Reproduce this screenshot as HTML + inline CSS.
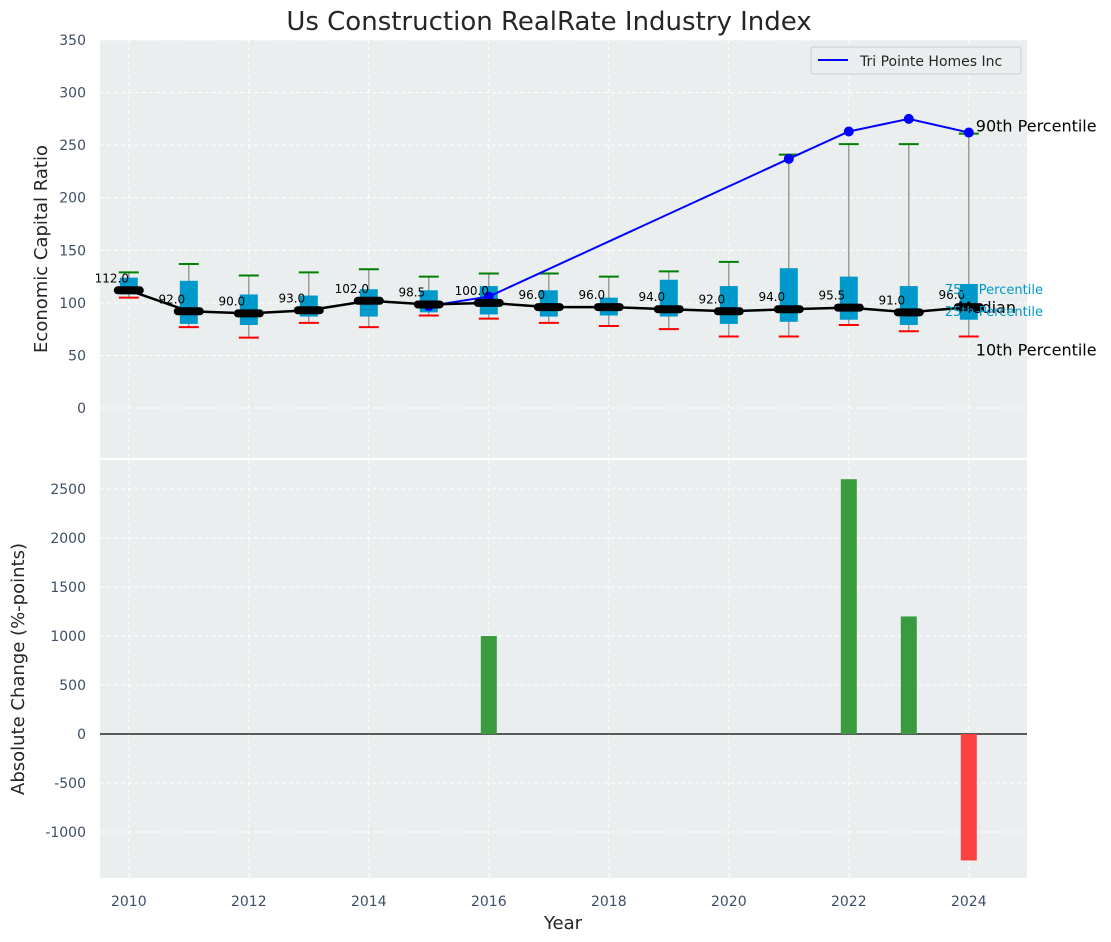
<!DOCTYPE html>
<html><head><meta charset="utf-8"><style>
html,body{margin:0;padding:0;background:#fff;}
svg{display:block;font-family:"DejaVu Sans","Liberation Sans",sans-serif;}
</style></head><body>
<svg id="chart" width="1111" height="942" viewBox="0 0 1111 942" xmlns="http://www.w3.org/2000/svg">
<text x="549" y="30" font-size="26" text-anchor="middle" fill="#262626">Us Construction RealRate Industry Index</text>
<rect x="100" y="40" width="927" height="418" fill="#eaeeef"/>
<rect x="100" y="460" width="927" height="418" fill="#eaeeef"/>
<g id="topG"></g><g id="botG"></g>
<text transform="translate(47,249) rotate(-90)" font-size="18" text-anchor="middle" fill="#262626">Economic Capital Ratio</text>
<text transform="translate(24,669) rotate(-90)" font-size="18" text-anchor="middle" fill="#262626">Absolute Change (%-points)</text>
<text x="563" y="929" font-size="18" text-anchor="middle" fill="#262626">Year</text>
<g id="legendG">
<rect x="811" y="47" width="210" height="27" rx="3" fill="#eaeeef" stroke="#cccccc"/>
<line x1="818" y1="60" x2="848" y2="60" stroke="#0000ff" stroke-width="2"/>
<text x="860" y="66" font-size="14" fill="#262626">Tri Pointe Homes Inc</text>
</g>
</svg>
<script>
const years=[2010,2011,2012,2013,2014,2015,2016,2017,2018,2019,2020,2021,2022,2023,2024];
const medians=[112,92,90,93,102,98.5,100,96,96,94,92,94,95.5,91,96];
const q1=[108,80,79,87,87,91,89,87,88,87,80,82,84,79,84];
const q3=[124,121,108,107,113,112,116,112,105,122,116,133,125,116,118];
const p10=[105,77,67,81,77,88,85,81,78,75,68,68,79,73,68];
const p90=[129,137,126,129,132,125,128,128,125,130,139,241,251,251,261];
const companyYears=[2015,2016,2021,2022,2023,2024];
const companyValues=[97,106,237,263,275,262];
const changeYears=[2016,2022,2023,2024];
const changeValues=[1000,2600,1200,-1290];
const topTicks=[0,50,100,150,200,250,300,350];
const botTicks=[-1000,-500,0,500,1000,1500,2000,2500];
const xTicks=[2010,2012,2014,2016,2018,2020,2022,2024];

const NS="http://www.w3.org/2000/svg";
const X=v=>100+(v-2009.52)/(2024.97-2009.52)*927;
const YT=v=>458-(v+47.5)/(350+47.5)*418;
const YB=v=>878-(v+1469)/(2796+1469)*418;
function mk(parent,tag,attrs){const e=document.createElementNS(NS,tag);for(const k in attrs)e.setAttribute(k,attrs[k]);parent.appendChild(e);return e;}
const topG=document.getElementById('topG'), botG=document.getElementById('botG');

for(let yr=2010;yr<=2024;yr+=2){
  let g=mk(topG,'line',{x1:X(yr),x2:X(yr),y1:40,y2:458,stroke:'#fff','stroke-dasharray':'4,3'});
  
  
  g=mk(botG,'line',{x1:X(yr),x2:X(yr),y1:460,y2:878,stroke:'#fff','stroke-dasharray':'4,3'});
  
  
}
topTicks.forEach(t=>{
  let g=mk(topG,'line',{x1:100,x2:1027,y1:YT(t),y2:YT(t),stroke:'#fff','stroke-dasharray':'4,3'});
  
  
  let l=mk(topG,'text',{x:86,y:YT(t)+5,'font-size':14,'text-anchor':'end',fill:'#3d4f66'});l.textContent=t;
  
  
});
botTicks.forEach(t=>{
  let g=mk(botG,'line',{x1:100,x2:1027,y1:YB(t),y2:YB(t),stroke:'#fff','stroke-dasharray':'4,3'});
  
  
  let l=mk(botG,'text',{x:86,y:YB(t)+5,'font-size':14,'text-anchor':'end',fill:'#3d4f66'});l.textContent=t;
  
  
});
xTicks.forEach(t=>{
  let l=mk(botG,'text',{x:X(t),y:906,'font-size':14,'text-anchor':'middle',fill:'#3d4f66'});l.textContent=t;
  
  
});

years.forEach((yr,i)=>{
  const x=X(yr);
  let w=mk(topG,'line',{x1:x,x2:x,y1:YT(p90[i]),y2:YT(p10[i]),stroke:'#888','stroke-width':1.2});
  
  
  let b=mk(topG,'rect',{x:x-9,y:YT(q3[i]),width:18,height:YT(q1[i])-YT(q3[i]),fill:'#0099cc'});
  
  
  let g=mk(topG,'line',{x1:x-10,x2:x+10,y1:YT(p90[i]),y2:YT(p90[i]),stroke:'#008000','stroke-width':2});
  
  
  let r=mk(topG,'line',{x1:x-10,x2:x+10,y1:YT(p10[i]),y2:YT(p10[i]),stroke:'#ff0000','stroke-width':2});
  
  
});
let cp=mk(topG,'polyline',{points:companyYears.map((y,i)=>X(y)+','+YT(companyValues[i])).join(' '),fill:'none',stroke:'#0000ff','stroke-width':2});


companyYears.forEach((y,i)=>{
  let c=mk(topG,'circle',{cx:X(y),cy:YT(companyValues[i]),r:5,fill:'#0000ff'});
  
  
});
let ml=mk(topG,'polyline',{points:years.map((y,i)=>X(y)+','+YT(medians[i])).join(' '),fill:'none',stroke:'#000','stroke-width':2.5});


years.forEach((y,i)=>{
  let m=mk(topG,'line',{x1:X(y)-11,x2:X(y)+11,y1:YT(medians[i]),y2:YT(medians[i]),stroke:'#000','stroke-width':8,'stroke-linecap':'round'});
  
  
  let t=mk(topG,'text',{x:X(y)-17,y:YT(medians[i])-8,'font-size':12,'text-anchor':'middle',fill:'#000'});t.textContent=medians[i].toFixed(1);
  
  
});
const last=years.length-1, lx=X(2024);
[['90th Percentile',lx+7,YT(p90[last])-2,16,'#000'],['10th Percentile',lx+7,YT(p10[last])+19,16,'#000'],['Median',lx-11,YT(medians[last])+6,16,'#000'],
 ['75th Percentile',lx-24,YT(medians[last])-13,13,'#0099cc'],['25th Percentile',lx-24,YT(medians[last])+9,13,'#0099cc']].forEach(a=>{
  let t=mk(topG,'text',{x:a[1],y:a[2],'font-size':a[3],fill:a[4]});t.textContent=a[0];
  
  
});
let z=mk(botG,'line',{x1:100,x2:1027,y1:YB(0),y2:YB(0),stroke:'#000','stroke-width':1.2});


changeYears.forEach((y,i)=>{
  const v=changeValues[i];
  let b=mk(botG,'rect',{x:X(y)-8,y:Math.min(YB(v),YB(0)),width:16,height:Math.abs(YB(v)-YB(0)),fill:v>=0?'#3a9b3e':'#ff4040'});
  
  
});
document.getElementById('chart').appendChild(document.getElementById('legendG'));
</script>
</body></html>
